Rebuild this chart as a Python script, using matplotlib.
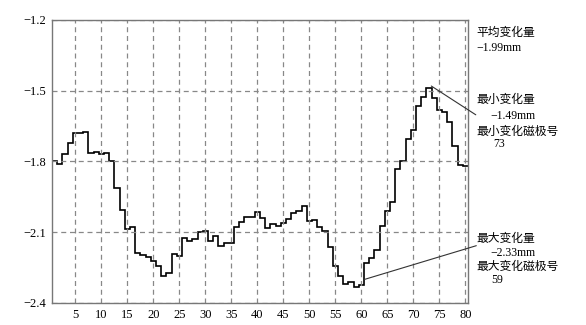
import numpy as np
import matplotlib
matplotlib.use("Agg")
from matplotlib import pyplot as plt

plt.rcParams['font.family'] = ['Liberation Serif', 'Noto Sans CJK SC']
plt.rcParams['axes.unicode_minus'] = True

# magnetic pole numbers 1..80 and the measured change (mm)
poles = np.arange(1, 81)
change = [
    -1.80, -1.81, -1.77, -1.72, -1.68, -1.68, -1.675, -1.765, -1.76, -1.77,
    -1.765, -1.80, -1.913, -2.005, -2.085, -2.078, -2.186, -2.195, -2.205, -2.22,
    -2.242, -2.284, -2.273, -2.193, -2.20, -2.126, -2.136, -2.129, -2.101, -2.093,
    -2.139, -2.118, -2.157, -2.146, -2.146, -2.078, -2.057, -2.037, -2.037, -2.016,
    -2.04, -2.082, -2.066, -2.073, -2.061, -2.044, -2.019, -2.008, -1.988, -2.054,
    -2.047, -2.078, -2.094, -2.164, -2.245, -2.284, -2.318, -2.313, -2.332, -2.323,
    -2.231, -2.21, -2.174, -2.073, -2.012, -1.97, -1.832, -1.796, -1.705, -1.666,
    -1.563, -1.525, -1.49, -1.532, -1.581, -1.591, -1.631, -1.734, -1.814, -1.821,
]

x_ticks = list(range(5, 81, 5))
y_ticks = [-1.2, -1.5, -1.8, -2.1, -2.4]

mean_text = ["平均变化量", "−1.99mm"]
min_pole, min_val = 73, -1.49
max_pole, max_val = 59, -2.33

fig = plt.figure(figsize=(5.86, 3.25), dpi=100)
ax = fig.add_axes([0.0887, 0.0677, 0.7099, 0.8708])

edges = np.arange(0.5, 81.0, 1.0)
ax.stairs(change, edges, baseline=None, color='black', linewidth=1.2)

ax.set_xlim(0.5, 80.5)
ax.set_ylim(-2.4, -1.2)
ax.set_xticks(x_ticks)
ax.set_yticks(y_ticks)
ax.set_yticklabels(["−%.1f" % abs(v) for v in y_ticks])
ax.tick_params(length=0, labelsize=9, pad=4)
ax.grid(True, linestyle=(0, (4, 3)), color='#888888', linewidth=0.9)
for s in ax.spines.values():
    s.set_color('#777777')
    s.set_linewidth(1.0)

# right side notes
tx = 82.2
ax.text(tx, -1.255, mean_text[0], fontsize=8.5, va='center', clip_on=False)
ax.text(tx, -1.319, mean_text[1], fontsize=8.5, va='center', clip_on=False)

ax.text(tx, -1.539, "最小变化量", fontsize=8.5, va='center', clip_on=False)
ax.text(84.9, -1.607, "−%.2fmm" % abs(min_val), fontsize=8.5, va='center', clip_on=False)
ax.text(tx, -1.674, "最小变化磁极号", fontsize=8.5, va='center', clip_on=False)
ax.text(85.4, -1.725, str(min_pole), fontsize=8.5, va='center', clip_on=False)

ax.text(tx, -2.129, "最大变化量", fontsize=8.5, va='center', clip_on=False)
ax.text(84.9, -2.186, "−%.2fmm" % abs(max_val), fontsize=8.5, va='center', clip_on=False)
ax.text(tx, -2.248, "最大变化磁极号", fontsize=8.5, va='center', clip_on=False)
ax.text(84.9, -2.304, str(max_pole), fontsize=8.5, va='center', clip_on=False)

# pointer lines
ax.annotate("", xy=(min_pole + 0.45, min_val + 0.01), xytext=(82.0, -1.602),
            arrowprops=dict(arrowstyle='-', color='#333333', lw=0.8,
                            shrinkA=0, shrinkB=0),
            annotation_clip=False)
ax.annotate("", xy=(max_pole + 1.6, max_val + 0.03), xytext=(82.1, -2.157),
            arrowprops=dict(arrowstyle='-', color='#333333', lw=0.8,
                            shrinkA=0, shrinkB=0),
            annotation_clip=False)

fig.savefig("out.png", dpi=100)
